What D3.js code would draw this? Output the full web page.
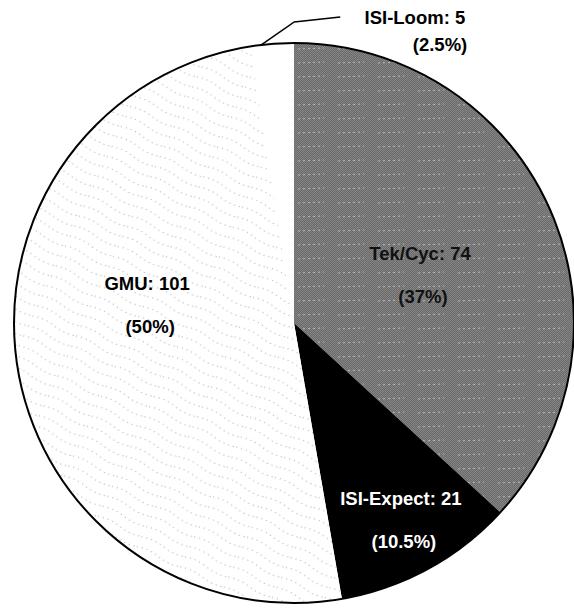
<!DOCTYPE html>
<html>
<head>
<meta charset="utf-8">
<script src="https://cdn.jsdelivr.net/npm/d3@7"></script>
<style>
  body { margin: 0; background: #fff; }
  text { font-family: "Liberation Sans", Arial, sans-serif; font-weight: bold; font-size: 18.5px; }
</style>
</head>
<body>
<svg id="chart" width="574" height="613"></svg>
<script>
// data
var labels = ["Tek/Cyc", "ISI-Expect", "GMU", "ISI-Loom"];
var counts = [74, 21, 101, 5];
var percents = ["37%", "10.5%", "50%", "2.5%"];

var svg = d3.select("#chart"),
    cx = 294, cy = 323, radius = 280;

var defs = svg.append("defs");

// checkered gray with a few light streaks
var pg = defs.append("pattern").attr("id", "gray")
    .attr("patternUnits", "userSpaceOnUse").attr("width", 40).attr("height", 14);
pg.append("rect").attr("width", 40).attr("height", 14).attr("fill", "#858585");
for (var i = 0; i < 40; i += 2) {
  for (var j = 0; j < 14; j += 2) {
    pg.append("rect").attr("x", i).attr("y", j).attr("width", 1).attr("height", 1).attr("fill", "#6a6a6a");
    pg.append("rect").attr("x", i + 1).attr("y", j + 1).attr("width", 1).attr("height", 1).attr("fill", "#6a6a6a");
  }
}
pg.append("path").attr("d", "M4,6 L30,5").attr("stroke", "#c8c8c8")
    .attr("stroke-width", 0.8).attr("stroke-dasharray", "2,3");

// sparse dotted wavy lines on white
var pd = defs.append("pattern").attr("id", "dots")
    .attr("patternUnits", "userSpaceOnUse").attr("width", 48).attr("height", 11)
    .attr("patternTransform", "rotate(25)");
pd.append("rect").attr("width", 48).attr("height", 11).attr("fill", "#fff");
pd.append("path").attr("d", "M0,5 Q12,2 24,5 T48,5").attr("fill", "none")
    .attr("stroke", "#8a8a8a").attr("stroke-width", 0.9).attr("stroke-dasharray", "1,4");

var fills = ["url(#gray)", "#000", "url(#dots)", "#fff"];
var textColors = ["#111", "#fff", "#000", "#000"];

var pie = d3.pie().sort(null).value(function(d) { return d; });
var arcs = pie(counts);
var arc = d3.arc().innerRadius(0).outerRadius(radius);

var g = svg.append("g").attr("transform", "translate(" + cx + "," + cy + ")");

g.selectAll("path.slice")
  .data(arcs)
  .enter().append("path")
  .attr("class", "slice")
  .attr("d", arc)
  .attr("fill", function(d, i) { return fills[i]; });

g.append("circle").attr("r", radius).attr("fill", "none")
  .attr("stroke", "#000").attr("stroke-width", 2);

// label anchors: radius and angle (from top, clockwise) for the inside labels
var labelPlace = [[135, 69], [224, 151.5], [148, 277]];

labelPlace.forEach(function(p, i) {
  var a = p[1] * Math.PI / 180;
  var x = p[0] * Math.sin(a), y = -p[0] * Math.cos(a);
  var t = g.append("text").attr("text-anchor", "middle").attr("fill", textColors[i]);
  t.append("tspan").attr("x", x).attr("y", y - 15).text(labels[i] + ": " + counts[i]);
  t.append("tspan").attr("x", x + 3).attr("y", y + 28).text("(" + percents[i] + ")");
});

// outside label for the small slice with a leader line
var small = arcs[3];
var la = small.startAngle + (small.endAngle - small.startAngle) * 0.25;
var px = radius * Math.sin(la), py = -radius * Math.cos(la);
g.append("polyline")
  .attr("points", [[px, py], [px + 33, py - 23], [px + 79, py - 28]].map(function(p) { return p.join(","); }).join(" "))
  .attr("fill", "none").attr("stroke", "#000").attr("stroke-width", 1.5);
var lt = g.append("text").attr("text-anchor", "end").attr("fill", "#000");
lt.append("tspan").attr("x", px + 204).attr("y", py - 21).text(labels[3] + ": " + counts[3]);
lt.append("tspan").attr("x", px + 206).attr("y", py + 6).text("(" + percents[3] + ")");
</script>
</body>
</html>
